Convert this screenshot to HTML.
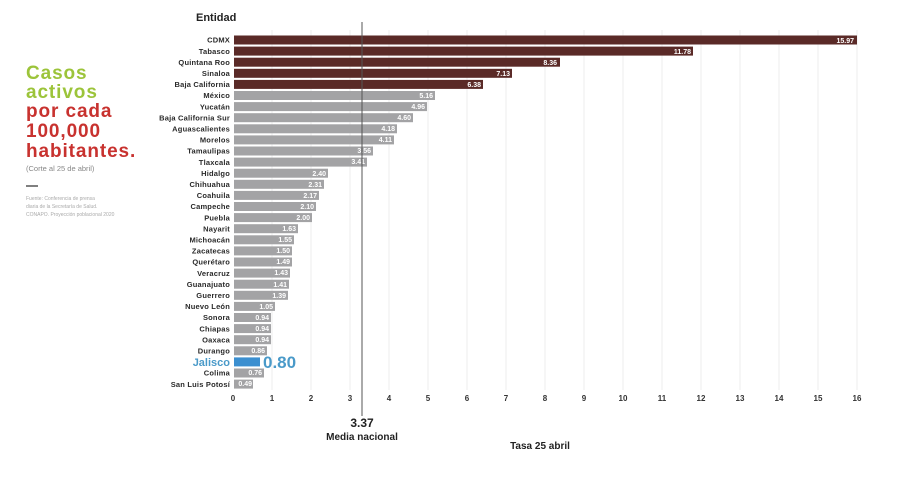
<!DOCTYPE html>
<html><head><meta charset="utf-8"><style>
body{margin:0;background:#fff;}
svg{display:block;font-family:"Liberation Sans",sans-serif;font-weight:bold;}
.l{font-size:7.5px;fill:#2a2a2a;text-anchor:end;letter-spacing:0.2px;}
.v{font-size:7px;fill:#fff;text-anchor:end;}
.g{fill:#a3a3a5;}
.m{fill:#5a2a27;}
.t{font-size:8px;fill:#333;text-anchor:middle;}
.h{letter-spacing:0.9px;}
</style></head><body>
<svg width="900" height="480" viewBox="0 0 900 480">
<g stroke="#eeeeee" stroke-width="1">
<line x1="272" y1="30" x2="272" y2="390"/><line x1="311" y1="30" x2="311" y2="390"/><line x1="350" y1="30" x2="350" y2="390"/><line x1="389" y1="30" x2="389" y2="390"/><line x1="428" y1="30" x2="428" y2="390"/><line x1="467" y1="30" x2="467" y2="390"/><line x1="506" y1="30" x2="506" y2="390"/><line x1="545" y1="30" x2="545" y2="390"/><line x1="584" y1="30" x2="584" y2="390"/><line x1="623" y1="30" x2="623" y2="390"/><line x1="662" y1="30" x2="662" y2="390"/><line x1="701" y1="30" x2="701" y2="390"/><line x1="740" y1="30" x2="740" y2="390"/><line x1="779" y1="30" x2="779" y2="390"/><line x1="818" y1="30" x2="818" y2="390"/><line x1="857" y1="30" x2="857" y2="390"/>
</g>
<text class="h" x="26" y="79" font-size="19" fill="#9cc43a">Casos</text>
<text class="h" x="26" y="98" font-size="19" fill="#9cc43a">activos</text>
<text class="h" x="26" y="117" font-size="19" fill="#c8322f">por cada</text>
<text class="h" x="26" y="137" font-size="19" fill="#c8322f">100,000</text>
<text class="h" x="26" y="157" font-size="19" fill="#c8322f">habitantes.</text>
<text x="26" y="171" font-size="7.5" fill="#888" font-weight="normal">(Corte al 25 de abril)</text>
<line x1="26" y1="186" x2="38" y2="186" stroke="#555" stroke-width="1.5"/>
<text x="26" y="200" font-size="5" fill="#aaa" font-weight="normal">Fuente: Conferencia de prensa</text>
<text x="26" y="208" font-size="5" fill="#aaa" font-weight="normal">diaria de la Secretaría de Salud.</text>
<text x="26" y="216" font-size="5" fill="#aaa" font-weight="normal">CONAPO. Proyección poblacional 2020</text>
<text x="196" y="21" font-size="11" fill="#222">Entidad</text>

<g>
<rect class="m" x="234" y="35.5" width="623" height="9"/><text class="l" x="230" y="42.7">CDMX</text><text class="v" x="854" y="43" font-size="10">15.97</text>
<rect class="m" x="234" y="46.6" width="459" height="9"/><text class="l" x="230" y="53.8">Tabasco</text><text class="v" x="691" y="54" font-size="10">11.78</text>
<rect class="m" x="234" y="57.7" width="326" height="9"/><text class="l" x="230" y="64.9">Quintana Roo</text><text class="v" x="557" y="65" font-size="10">8.36</text>
<rect class="m" x="234" y="68.8" width="278" height="9"/><text class="l" x="230" y="76">Sinaloa</text><text class="v" x="510" y="76" font-size="10">7.13</text>
<rect class="m" x="234" y="79.9" width="249" height="9"/><text class="l" x="230" y="87.1">Baja California</text><text class="v" x="481" y="87" font-size="10">6.38</text>
<rect class="g" x="234" y="91" width="201" height="9"/><text class="l" x="230" y="98.2">México</text><text class="v" x="433" y="98">5.16</text>
<rect class="g" x="234" y="102.1" width="193" height="9"/><text class="l" x="230" y="109.3">Yucatán</text><text class="v" x="425" y="109">4.96</text>
<rect class="g" x="234" y="113.2" width="179" height="9"/><text class="l" x="230" y="120.4">Baja California Sur</text><text class="v" x="411" y="120">4.60</text>
<rect class="g" x="234" y="124.3" width="163" height="9"/><text class="l" x="230" y="131.5">Aguascalientes</text><text class="v" x="395" y="131">4.18</text>
<rect class="g" x="234" y="135.4" width="160" height="9"/><text class="l" x="230" y="142.6">Morelos</text><text class="v" x="392" y="142">4.11</text>
<rect class="g" x="234" y="146.5" width="139" height="9"/><text class="l" x="230" y="153.7">Tamaulipas</text><text class="v" x="371" y="153">3.56</text>
<rect class="g" x="234" y="157.6" width="133" height="9"/><text class="l" x="230" y="164.8">Tlaxcala</text><text class="v" x="365" y="164">3.41</text>
<rect class="g" x="234" y="168.7" width="94" height="9"/><text class="l" x="230" y="175.9">Hidalgo</text><text class="v" x="326" y="176">2.40</text>
<rect class="g" x="234" y="179.8" width="90" height="9"/><text class="l" x="230" y="187">Chihuahua</text><text class="v" x="322" y="187">2.31</text>
<rect class="g" x="234" y="190.9" width="85" height="9"/><text class="l" x="230" y="198.1">Coahuila</text><text class="v" x="317" y="198">2.17</text>
<rect class="g" x="234" y="202" width="82" height="9"/><text class="l" x="230" y="209.2">Campeche</text><text class="v" x="314" y="209">2.10</text>
<rect class="g" x="234" y="213.1" width="78" height="9"/><text class="l" x="230" y="220.3">Puebla</text><text class="v" x="310" y="220">2.00</text>
<rect class="g" x="234" y="224.2" width="64" height="9"/><text class="l" x="230" y="231.4">Nayarit</text><text class="v" x="296" y="231">1.63</text>
<rect class="g" x="234" y="235.3" width="60" height="9"/><text class="l" x="230" y="242.5">Michoacán</text><text class="v" x="292" y="242">1.55</text>
<rect class="g" x="234" y="246.4" width="58" height="9"/><text class="l" x="230" y="253.6">Zacatecas</text><text class="v" x="290" y="253">1.50</text>
<rect class="g" x="234" y="257.5" width="58" height="9"/><text class="l" x="230" y="264.7">Querétaro</text><text class="v" x="290" y="264">1.49</text>
<rect class="g" x="234" y="268.6" width="56" height="9"/><text class="l" x="230" y="275.8">Veracruz</text><text class="v" x="288" y="275">1.43</text>
<rect class="g" x="234" y="279.7" width="55" height="9"/><text class="l" x="230" y="286.9">Guanajuato</text><text class="v" x="287" y="287">1.41</text>
<rect class="g" x="234" y="290.8" width="54" height="9"/><text class="l" x="230" y="298">Guerrero</text><text class="v" x="286" y="298">1.39</text>
<rect class="g" x="234" y="301.9" width="41" height="9"/><text class="l" x="230" y="309.1">Nuevo León</text><text class="v" x="273" y="309">1.05</text>
<rect class="g" x="234" y="313" width="37" height="9"/><text class="l" x="230" y="320.2">Sonora</text><text class="v" x="269" y="320">0.94</text>
<rect class="g" x="234" y="324.1" width="37" height="9"/><text class="l" x="230" y="331.3">Chiapas</text><text class="v" x="269" y="331">0.94</text>
<rect class="g" x="234" y="335.2" width="37" height="9"/><text class="l" x="230" y="342.4">Oaxaca</text><text class="v" x="269" y="342">0.94</text>
<rect class="g" x="234" y="346.3" width="33" height="9"/><text class="l" x="230" y="353.5">Durango</text><text class="v" x="265" y="353">0.86</text>
<rect x="234" y="357.4" width="26" height="9" fill="#3b8fd0"/><text x="230" y="366" font-size="11" fill="#4a9ac9" text-anchor="end">Jalisco</text><text x="263" y="368" font-size="17" fill="#4a9ac9">0.80</text>
<rect class="g" x="234" y="368.5" width="30" height="9"/><text class="l" x="230" y="375.7">Colima</text><text class="v" x="262" y="375">0.76</text>
<rect class="g" x="234" y="379.6" width="19" height="9"/><text class="l" x="230" y="386.8">San Luis Potosí</text><text class="v" x="252" y="386">0.49</text>
</g>
<line x1="362" y1="22" x2="362" y2="416" stroke="#555" stroke-width="1"/>
<g>
<text class="t" x="233" y="401">0</text><text class="t" x="272" y="401">1</text><text class="t" x="311" y="401">2</text><text class="t" x="350" y="401">3</text><text class="t" x="389" y="401">4</text><text class="t" x="428" y="401">5</text><text class="t" x="467" y="401">6</text><text class="t" x="506" y="401">7</text><text class="t" x="545" y="401">8</text><text class="t" x="584" y="401">9</text><text class="t" x="623" y="401">10</text><text class="t" x="662" y="401">11</text><text class="t" x="701" y="401">12</text><text class="t" x="740" y="401">13</text><text class="t" x="779" y="401">14</text><text class="t" x="818" y="401">15</text><text class="t" x="857" y="401">16</text>
</g>
<text x="362" y="427" font-size="12" fill="#222" text-anchor="middle">3.37</text>
<text x="362" y="440" font-size="10" fill="#222" text-anchor="middle">Media nacional</text>
<text x="540" y="449" font-size="10" fill="#222" text-anchor="middle">Tasa 25 abril</text>
</svg>
</body></html>
